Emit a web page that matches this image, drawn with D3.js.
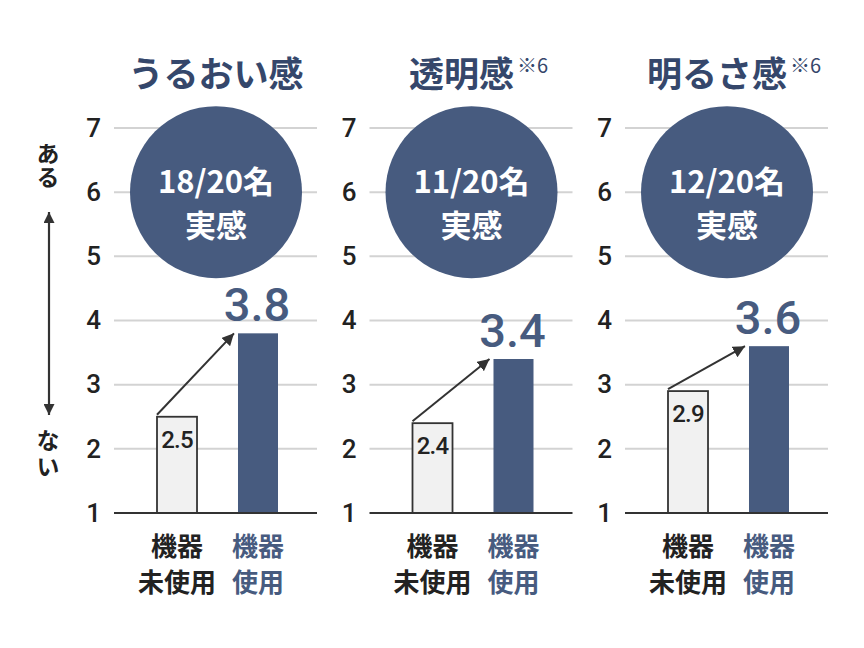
<!DOCTYPE html>
<html>
<head>
<meta charset="utf-8">
<script src="https://cdn.jsdelivr.net/npm/d3@7"></script>
<style>
  html, body { margin: 0; padding: 0; background: #fff; }
  svg { display: block; }
</style>
</head>
<body>
<svg id="chart" width="864" height="648"></svg>
<script>
// ---- data ----
const panels = ["うるおい感", "透明感", "明るさ感"];
const notes = ["", "※6", "※6"];
const counts = ["18/20名", "11/20名", "12/20名"];
const countSub = ["実感", "実感", "実感"];
const beforeValues = [2.5, 2.4, 2.9];
const afterValues = [3.8, 3.4, 3.6];
const conditions = ["未使用", "使用"];
const conditionLine1 = ["機器", "機器"];
const conditionLine2 = ["未使用", "使用"];
const yTicks = [1, 2, 3, 4, 5, 6, 7];
const axisTop = "ある";
const axisBottom = "ない";

// ---- styles ----
const NAVY = "#475b7f";
const TITLE = "#35476b";
const DARK = "#222";
const GRID = "#d3d3d3";
const JP = "'Noto Sans CJK JP', 'Noto Sans', sans-serif";
const NUM = "Roboto, 'Noto Sans', sans-serif";

const svg = d3.select("#chart");
const defs = svg.append("defs");
defs.append("marker")
  .attr("id", "ah")
  .attr("viewBox", "0 0 10 10")
  .attr("refX", 10).attr("refY", 5)
  .attr("markerWidth", 6).attr("markerHeight", 6)
  .attr("markerUnits", "strokeWidth")
  .attr("orient", "auto")
  .append("path").attr("d", "M0,0 L10,5 L0,10 z").attr("fill", "#333");

defs.append("marker")
  .attr("id", "ah2")
  .attr("viewBox", "0 0 10 10")
  .attr("refX", 10).attr("refY", 5)
  .attr("markerWidth", 5).attr("markerHeight", 5)
  .attr("markerUnits", "strokeWidth")
  .attr("orient", "auto-start-reverse")
  .append("path").attr("d", "M0,0 L10,5 L0,10 z").attr("fill", "#333");

// ---- scales ----
const y = d3.scaleLinear().domain([1, 7]).range([513, 128]);
const panelX = d3.scalePoint().domain(panels).range([114, 625]);
const gridW = 203;
const xb = d3.scaleBand().domain(conditions).range([43, 164]).paddingInner(0.506);

// ---- left axis label (vertical text) ----
const la = svg.append("g").attr("font-family", JP).attr("font-weight", 700)
  .attr("font-size", 23).attr("fill", DARK);
la.append("text").attr("x", 48).attr("y", 142)
  .style("writing-mode", "vertical-rl").attr("letter-spacing", 1).text(axisTop);
la.append("text").attr("x", 48).attr("y", 429)
  .style("writing-mode", "vertical-rl").attr("letter-spacing", 3).text(axisBottom);
svg.append("line")
  .attr("x1", 49).attr("x2", 49).attr("y1", 212).attr("y2", 415)
  .attr("stroke", "#333").attr("stroke-width", 2.2)
  .attr("marker-start", "url(#ah2)").attr("marker-end", "url(#ah2)");

panels.forEach((p, i) => {
  const g = svg.append("g").attr("transform", `translate(${panelX(p)},0)`);

  // grid lines
  g.selectAll("line.grid").data(yTicks.filter(t => t > 1)).join("line")
    .attr("class", "grid")
    .attr("x1", 0).attr("x2", gridW)
    .attr("y1", d => y(d)).attr("y2", d => y(d))
    .attr("stroke", GRID).attr("stroke-width", 2);

  // tick labels
  const ax = g.append("g").call(d3.axisLeft(y).tickValues(yTicks).tickSize(0).tickPadding(13).tickFormat(d3.format("d")));
  ax.select(".domain").remove();
  ax.selectAll("text")
    .attr("font-family", NUM).attr("font-weight", 500)
    .attr("font-size", 26).attr("fill", DARK);

  // title
  const cx = 102;
  const hasNote = notes[i] !== "";
  const t = g.append("text")
    .attr("x", cx - (hasNote ? 10 : 0)).attr("y", 87)
    .attr("text-anchor", "middle")
    .attr("font-family", JP).attr("font-weight", 700)
    .attr("font-size", 35).attr("fill", TITLE)
    .text(p);
  if (hasNote) {
    const len = t.node().getComputedTextLength();
    g.append("text")
      .attr("x", cx - 10 + len / 2 + 3).attr("y", 73)
      .attr("font-family", JP).attr("font-weight", 400)
      .attr("font-size", 20).attr("fill", TITLE)
      .text(notes[i]);
  }

  // circle
  g.append("circle").attr("cx", cx).attr("cy", y(6)).attr("r", 86).attr("fill", NAVY);
  g.append("text")
    .attr("x", cx).attr("y", 193)
    .attr("text-anchor", "middle")
    .attr("font-family", JP).attr("font-weight", 700)
    .attr("font-size", 31).attr("fill", "#fff")
    .text(counts[i]);
  g.append("text")
    .attr("x", cx).attr("y", 237)
    .attr("text-anchor", "middle")
    .attr("font-family", JP).attr("font-weight", 700)
    .attr("font-size", 31).attr("fill", "#fff")
    .text(countSub[i]);

  // bars
  const vals = [beforeValues[i], afterValues[i]];
  g.selectAll("rect.bar").data(conditions).join("rect")
    .attr("class", "bar")
    .attr("x", (d) => xb(d))
    .attr("width", xb.bandwidth())
    .attr("y", (d, j) => y(vals[j]))
    .attr("height", (d, j) => y(1) - y(vals[j]))
    .attr("fill", (d, j) => j === 0 ? "#f1f1f1" : NAVY)
    .attr("stroke", (d, j) => j === 0 ? "#333" : "none")
    .attr("stroke-width", 1.8);

  // baseline
  g.append("line").attr("x1", 0).attr("x2", gridW)
    .attr("y1", y(1)).attr("y2", y(1))
    .attr("stroke", "#333").attr("stroke-width", 2.2);

  // before value label
  g.append("text")
    .attr("x", xb(conditions[0]) + xb.bandwidth() / 2)
    .attr("y", y(vals[0]) + 31)
    .attr("text-anchor", "middle")
    .attr("font-family", NUM).attr("font-weight", 500)
    .attr("font-size", 24).attr("letter-spacing", -0.8).attr("fill", DARK)
    .text(d3.format(".1f")(vals[0]));

  // after value label
  g.append("text")
    .attr("x", xb(conditions[1]) + xb.bandwidth() / 2 - 1)
    .attr("y", y(vals[1]) - 12)
    .attr("text-anchor", "middle")
    .attr("font-family", NUM).attr("font-weight", 500)
    .attr("font-size", 47).attr("fill", NAVY)
    .text(d3.format(".1f")(vals[1]));

  // arrow
  g.append("line")
    .attr("x1", xb(conditions[0])).attr("y1", y(vals[0]) - 2)
    .attr("x2", xb(conditions[1]) - 4).attr("y2", y(vals[1]))
    .attr("stroke", "#333").attr("stroke-width", 2)
    .attr("marker-end", "url(#ah)");

  // condition labels
  conditions.forEach((c, j) => {
    const lx = xb(c) + xb.bandwidth() / 2;
    const col = j === 0 ? DARK : NAVY;
    g.append("text").attr("x", lx).attr("y", 556)
      .attr("text-anchor", "middle")
      .attr("font-family", JP).attr("font-weight", 700)
      .attr("font-size", 26).attr("fill", col)
      .text(conditionLine1[j]);
    g.append("text").attr("x", lx).attr("y", 592)
      .attr("text-anchor", "middle")
      .attr("font-family", JP).attr("font-weight", 700)
      .attr("font-size", 26).attr("fill", col)
      .text(conditionLine2[j]);
  });
});
</script>
</body>
</html>
